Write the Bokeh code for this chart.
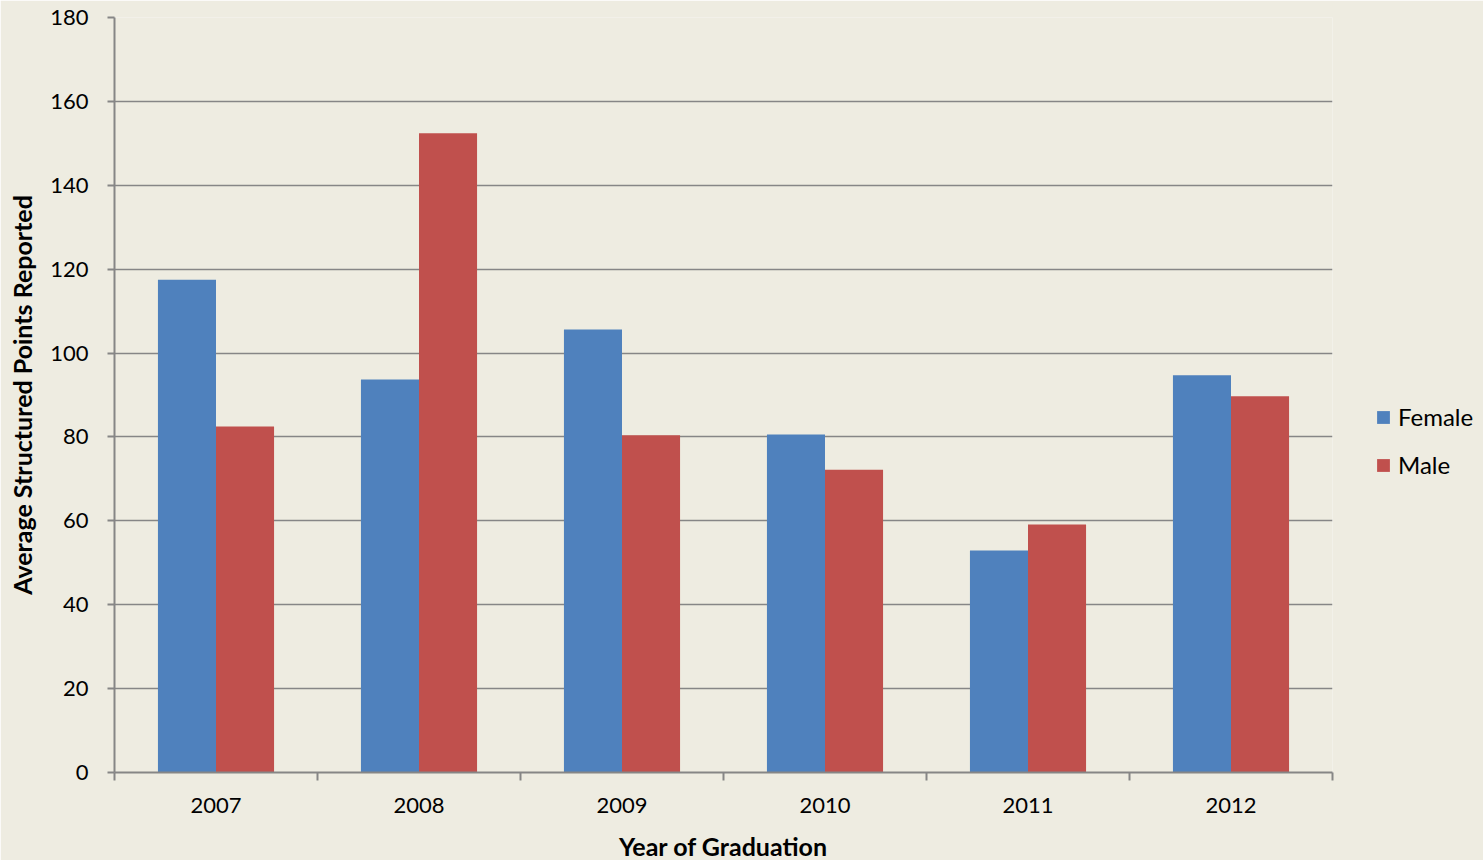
from bokeh.plotting import figure
from bokeh.models import Range1d, FixedTicker, Legend, LegendItem, ColumnDataSource
from bokeh.embed import file_html
from bokeh.resources import INLINE

years = ["2007", "2008", "2009", "2010", "2011", "2012"]
female = [117.5, 93.7, 105.6, 80.6, 52.9, 94.7]
male = [82.5, 152.4, 80.4, 72.2, 59.1, 89.7]
y_ticks = [0, 20, 40, 60, 80, 100, 120, 140, 160, 180]

BG = "#EEECE1"
GRID = "#868686"
FONT = "Lato"

idx = list(range(len(years)))
bw = 0.286
src = ColumnDataSource(dict(
    xf=[i + 0.5 - bw / 2 for i in idx],
    xm=[i + 0.5 + bw / 2 for i in idx],
    female=female, male=male))

p = figure(width=1483, height=860, output_backend="svg", toolbar_location=None,
           x_range=Range1d(0, len(years)), y_range=Range1d(0, 180),
           frame_width=1218, frame_height=755,
           min_border_left=114, min_border_top=17, min_border_right=151, min_border_bottom=88)
p.background_fill_color = BG
p.border_fill_color = BG
p.outline_line_color = None

rf = p.vbar(x="xf", top="female", width=bw, bottom=0, source=src,
            fill_color="#4F81BD", line_color=None)
rm = p.vbar(x="xm", top="male", width=bw, bottom=0, source=src,
            fill_color="#C0504D", line_color=None)

# x axis
p.xaxis.ticker = FixedTicker(ticks=[i + 0.5 for i in idx], minor_ticks=list(range(len(years) + 1)))
p.xaxis.major_label_overrides = {i + 0.5: y for i, y in zip(idx, years)}
p.xaxis.major_tick_line_color = None
p.xaxis.minor_tick_line_color = GRID
p.xaxis.minor_tick_line_width = 2
p.xaxis.minor_tick_out = 8
p.xaxis.minor_tick_in = 0
p.xaxis.axis_line_color = GRID
p.xaxis.axis_line_width = 2
p.xaxis.major_label_standoff = 17
p.xaxis.axis_label = "Year of Graduation"
p.xaxis.axis_label_text_font_style = "bold"
p.xaxis.axis_label_text_font_size = "25px"
p.xaxis.axis_label_text_font = FONT
p.xaxis.axis_label_text_color = "black"
p.xaxis.axis_label_standoff = 15
p.xaxis.major_label_text_font = FONT
p.xaxis.major_label_text_font_size = "22px"
p.xaxis.major_label_text_color = "black"
p.xgrid.grid_line_color = None

# y axis
p.yaxis.ticker = FixedTicker(ticks=y_ticks)
p.yaxis.minor_tick_line_color = None
p.yaxis.major_tick_line_color = GRID
p.yaxis.major_tick_line_width = 2
p.yaxis.major_tick_out = 7
p.yaxis.major_tick_in = 0
p.yaxis.axis_line_color = GRID
p.yaxis.axis_line_width = 2
p.yaxis.major_label_standoff = 19
p.yaxis.major_label_text_font = FONT
p.yaxis.major_label_text_font_size = "22px"
p.yaxis.major_label_text_color = "black"
p.yaxis.axis_label = "Average Structured Points Reported"
p.yaxis.axis_label_text_font_style = "bold"
p.yaxis.axis_label_text_font_size = "25px"
p.yaxis.axis_label_text_font = FONT
p.yaxis.axis_label_text_color = "black"
p.yaxis.axis_label_standoff = 10
p.ygrid.grid_line_color = GRID
p.ygrid.grid_line_width = 1.5

legend = Legend(items=[LegendItem(label="Female", renderers=[rf]),
                       LegendItem(label="Male", renderers=[rm])],
                location=(43, 293), background_fill_alpha=0, border_line_color=None,
                label_text_font=FONT, label_text_font_size="24px",
                label_text_color="black",
                glyph_width=16, glyph_height=16, label_height=24, spacing=19,
                label_standoff=7, padding=0, margin=0)
p.add_layout(legend, "right")

open("out.html", "w").write(file_html(p, INLINE))
